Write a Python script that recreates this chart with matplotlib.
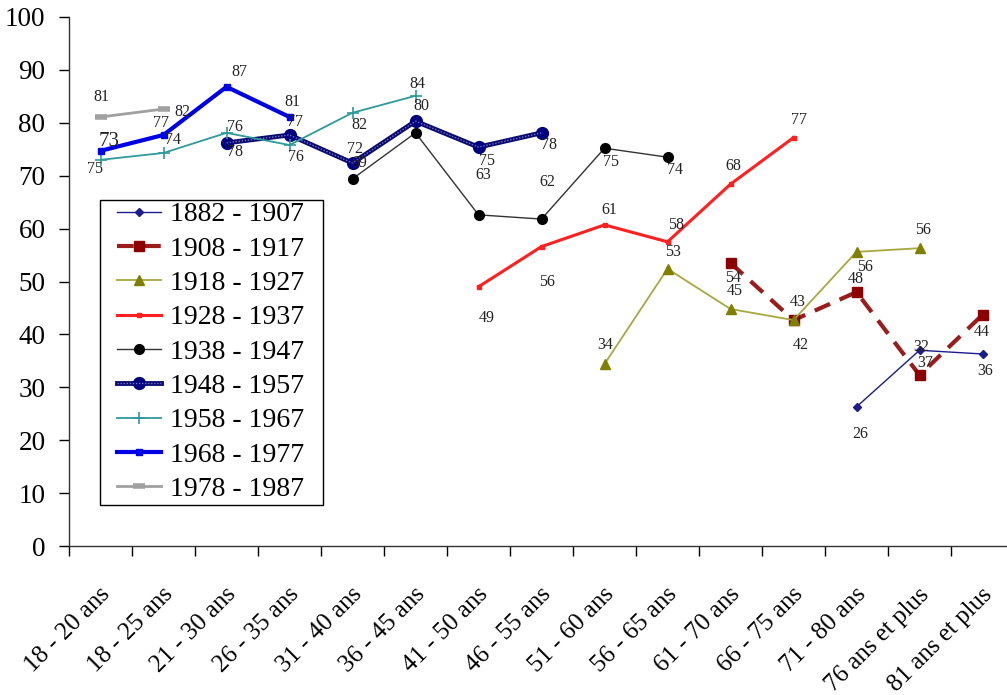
import numpy as np
import matplotlib
matplotlib.use('Agg')
from matplotlib import pyplot as plt
from matplotlib import transforms
from matplotlib.patches import Rectangle

plt.rcParams['font.family'] = ['Liberation Serif', 'DejaVu Serif']

nan = np.nan

categories = ['18 - 20 ans', '18 - 25 ans', '21 - 30 ans', '26 - 35 ans', '31 - 40 ans',
              '36 - 45 ans', '41 - 50 ans', '46 - 55 ans', '51 - 60 ans', '56 - 65 ans',
              '61 - 70 ans', '66 - 75 ans', '71 - 80 ans', '76 ans et plus', '81 ans et plus']

cohorts = ['1882 - 1907', '1908 - 1917', '1918 - 1927', '1928 - 1937', '1938 - 1947',
           '1948 - 1957', '1958 - 1967', '1968 - 1977', '1978 - 1987']

s1882 = [nan] * 12 + [26.3, 37.0, 36.3]
s1908 = [nan] * 10 + [53.5, 42.7, 48.0, 32.3, 43.7]
s1918 = [nan] * 8 + [34.4, 52.4, 44.8, 42.7, 55.6, 56.3, nan]
s1928 = [nan] * 6 + [49.0, 56.6, 60.7, 57.5, 68.4, 77.2] + [nan] * 3
s1938 = [nan] * 4 + [69.4, 78.1, 62.6, 61.8, 75.2, 73.5] + [nan] * 5
s1948 = [nan] * 2 + [76.2, 77.7, 72.4, 80.3, 75.4, 78.1] + [nan] * 7
s1958 = [73.0, 74.3, 78.1, 75.8, 81.9, 85.1] + [nan] * 9
s1968 = [74.7, 77.7, 86.8, 81.1] + [nan] * 11
s1978 = [81.1, 82.6] + [nan] * 13

# data labels as printed on the chart (one per plotted point, '' = hidden)
lab1882 = ['26', '37', '36']
lab1908 = ['54', '42', '48', '32', '44']
lab1918 = ['34', '53', '45', '43', '56', '56']
lab1928 = ['49', '56', '61', '58', '68', '77']
lab1938 = ['69', '', '63', '62', '75', '74']
lab1948 = ['78', '77', '72', '80', '75', '78']
lab1958 = ['75', '74', '76', '76', '82', '84']
lab1968 = ['73', '77', '87', '81']
lab1978 = ['81', '82']

series = [s1882, s1908, s1918, s1928, s1938, s1948, s1958, s1968, s1978]
labels = [lab1882, lab1908, lab1918, lab1928, lab1938, lab1948, lab1958, lab1968, lab1978]

# label offsets in pixels (dx, dy) for each point
offsets = [
    [(4, -27), (6, -13), (3, -17)],
    [(3, -15), (7, -25), (-1, 13), (2, 28), (-1, -17)],
    [(1, 19), (6, 17), (4, 18), (4, 18), (9, -15), (4, 18)],
    [(8, -31), (5, -35), (5, 15), (9, 17), (3, 18), (6, 18)],
    [(7, 16), (0, 0), (5, 40), (6, 37), (6, -14), (7, -13)],
    [(9, -9), (5, 13), (2, 14), (6, 15), (9, -14), (7, -12)],
    [(-6, -9), (10, 13), (8, 6), (6, -12), (7, -12), (2, 12)],
    [(9, 9), (-2, 12), (13, 15), (3, 15)],
    [(1, 20), (19, -3)],
]

styles = [
    dict(color='#1c1c8a', lw=1.0, marker='D', ms=4.5, mfc='#1c1c8a', mec='#1c1c8a', ls='-'),
    dict(color='#9b1c1c', lw=3.0, marker='s', ms=7.5, mfc='#8b0000', mec='#8b0000', ls=(0, (4, 2.5))),
    dict(color='#a8a840', lw=1.3, marker='^', ms=7.5, mfc='#808000', mec='#808000', ls='-'),
    dict(color='#ff2020', lw=2.2, marker='s', ms=3.5, mfc='#ff2020', mec='#ff2020', ls='-'),
    dict(color='#333333', lw=1.0, marker='o', ms=7, mfc='black', mec='black', ls='-'),
    dict(color='#0a0a70', lw=3.5, marker='o', ms=8.5, mfc='#000080', mec='#000080', ls='-'),
    dict(color='#2e9a9a', lw=1.3, marker='+', ms=9, mfc='#2e9a9a', mec='#2e9a9a', mew=1.2, ls='-'),
    dict(color='#0000e6', lw=3.0, marker='s', ms=4.5, mfc='#0000e6', mec='#0000e6', ls='-'),
    dict(color='#a0a0a0', lw=2.0, marker='_', ms=9, mfc='#a0a0a0', mec='#a0a0a0', mew=4, ls='-'),
]

W, H = 1007, 695
fig = plt.figure(figsize=(W / 100, H / 100), dpi=100)
ax = fig.add_axes([69 / W, 1 - 546 / H, 1 - 69 / W, (546 - 17) / H])

x = np.arange(len(categories))
handles = []
for i, (vals, st) in enumerate(zip(series, styles)):
    line, = ax.plot(x, vals, zorder=3 + i * 0.1, **st)
    if cohorts[i] == '1948 - 1957':
        wav, = ax.plot(x, vals, color='#7070c0', lw=1.0, ls=(0, (1, 1.2)), zorder=3 + i * 0.1 + 0.05)
        handles.append((line, wav))
    else:
        handles.append(line)
    pts = [(xi, v) for xi, v in zip(x, vals) if not np.isnan(v)]
    for (xi, v), txt, off in zip(pts, labels[i], offsets[i]):
        if not txt:
            continue
        fs = 15 if (cohorts[i] == '1968 - 1977' and xi == 0) else 11.5
        ax.annotate(txt, (xi, v), xytext=off, textcoords='offset pixels',
                    ha='center', va='center', fontsize=fs, color='#222222', zorder=10)

ax.set_ylim(0, 100)
ax.set_xlim(-0.5, (W - 69) / 63 - 0.5)
ax.set_yticks(np.arange(0, 101, 10))
ax.tick_params(axis='y', labelsize=19.5, length=7, width=1, direction='out', pad=10)

ax.set_xticks(np.arange(len(categories)) - 0.5)
ax.set_xticklabels([])
ax.tick_params(axis='x', which='major', length=7, width=1, direction='out')
ax.set_xticks(x, minor=True)
ax.set_xticklabels(categories, minor=True, rotation=45, ha='right', fontsize=18)
ax.tick_params(axis='x', which='minor', length=0, pad=27)
for lbl in ax.get_xticklabels(minor=True):
    lbl.set_transform(lbl.get_transform() + transforms.ScaledTranslation(14 / 100, 0, fig.dpi_scale_trans))

for side in ['top', 'right']:
    ax.spines[side].set_visible(False)
for side in ['left', 'bottom']:
    ax.spines[side].set_linewidth(1.0)
    ax.spines[side].set_color('#333333')

# legend box drawn separately so its padding matches the original
box = Rectangle((100 / W, 1 - 505 / H), 223 / W, 305 / H, transform=fig.transFigure,
                facecolor='white', edgecolor='black', lw=1.0, zorder=20, clip_on=False)
ax.add_patch(box)
leg = ax.legend(handles, cohorts, loc='upper left', bbox_to_anchor=(117 / W, 1 - 202 / H),
                bbox_transform=fig.transFigure, fontsize=20, frameon=False,
                handlelength=1.6, handletextpad=0.3,
                labelspacing=0.32, borderpad=0, borderaxespad=0)
leg.set_zorder(21)

plt.savefig('out.png', dpi=100)
